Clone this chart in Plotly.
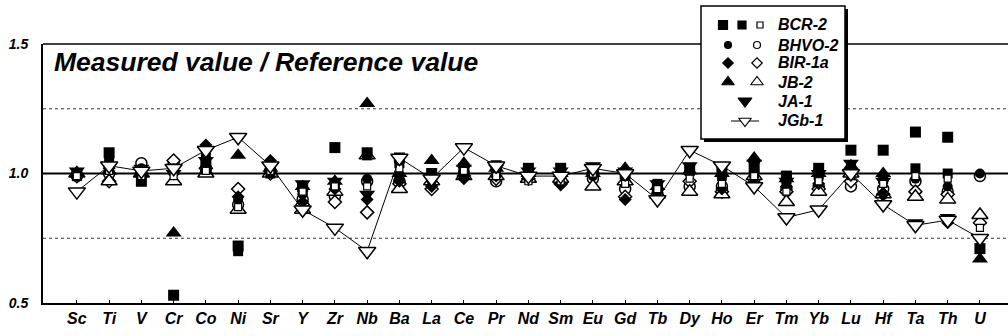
import plotly.graph_objects as go

# ---------------- data ----------------
elements = ["Sc", "Ti", "V", "Cr", "Co", "Ni", "Sr", "Y", "Zr", "Nb", "Ba", "La", "Ce", "Pr",
            "Nd", "Sm", "Eu", "Gd", "Tb", "Dy", "Ho", "Er", "Tm", "Yb", "Lu", "Hf", "Ta", "Th", "U"]

bcr2_a = [1.00, 1.08, 0.97, 0.53, 1.03, 0.72, 1.02, 0.95, 1.10, 1.08, 1.06, 1.00, 1.02, 1.03,
          1.02, 1.02, 1.02, 1.00, 0.95, 1.02, 1.02, 1.02, 0.99, 1.02, 1.09, 1.09, 1.16, 1.14, 0.71]
bcr2_b = [0.99, 1.05, 0.99, None, 1.06, 0.70, 1.00, 0.93, 0.96, 1.07, 1.04, 0.99, 1.00, 1.01,
          1.01, 1.00, 1.01, 0.99, 0.96, 1.01, 1.00, 1.00, 0.98, 1.00, 1.03, 0.98, 1.02, 1.00, None]
bcr2_open = [0.99, 1.01, 0.99, 0.99, 1.01, 0.87, 1.01, 0.93, 0.95, 0.95, 1.02, 0.98, 1.01, 0.99,
             0.97, 0.97, 1.00, 0.96, 0.94, 0.98, 0.96, 0.99, 0.93, 0.97, 0.99, 0.96, 0.99, 0.98, 0.79]
bhvo2_fill = [1.00, 1.03, 1.02, 1.02, 1.04, 0.90, 1.03, 0.92, 0.96, 0.98, 0.99, 0.97, 1.03, 1.00,
              1.00, 0.99, 0.99, 0.99, 0.93, 1.00, 0.98, 1.00, 0.96, 0.98, 1.02, 0.97, 0.98, 0.95, 1.00]
bhvo2_open = [0.99, 1.00, 1.04, 1.04, 1.02, 0.88, 1.01, 0.90, 0.91, 0.97, 0.97, 0.96, 1.00, 0.97,
              0.98, 0.98, 0.98, 0.94, 0.92, 0.95, 0.95, 0.97, 0.94, 0.95, 0.95, 0.94, 0.97, 0.93, 0.99]
bir1a_fill = [1.00, 1.02, 1.01, 1.00, 1.11, 0.91, 1.05, 0.89, 0.94, 0.90, 0.97, 0.95, 0.98, 0.99,
              0.98, 0.96, 1.01, 0.90, 0.91, 1.00, 0.94, 0.96, 0.95, 0.96, 1.01, 0.92, None, 0.81, None]
bir1a_open = [0.99, 0.97, 1.00, 1.05, 1.02, 0.94, 1.00, 0.88, 0.89, 0.85, 0.96, 0.94, 0.99, 0.98,
              0.98, 0.96, 1.00, 0.91, 0.91, 0.97, 0.93, 0.96, 0.93, 0.94, 0.97, 0.92, 0.93, 0.92, 0.81]
jb2_fill = [1.00, 1.01, 1.00, 0.77, 1.01, 1.07, 1.02, 0.95, 0.97, 1.27, 1.00, 1.05, 1.04, 1.02,
            1.00, 1.00, 1.00, 1.02, 0.95, 1.01, 1.00, 1.06, 0.98, 1.00, 1.03, 1.00, None, None, 0.67]
jb2_open = [1.00, 0.97, 1.00, 0.97, 1.00, 0.86, 1.00, 0.86, 0.93, 1.07, 0.94, 0.97, 0.99, 0.99,
            0.98, 0.98, 0.95, 0.97, 0.92, 0.93, 0.92, 0.99, 0.89, 0.93, 1.00, 0.92, 0.91, 0.90, 0.84]
ja1 = [1.01, 1.03, 1.02, 1.00, 1.05, None, 1.03, 0.96, 0.97, 0.92, 1.06, 0.98, 1.02, 1.02,
       1.01, 1.01, 1.03, 1.01, 0.96, 1.03, 1.03, 1.04, 0.97, 1.00, 1.04, 0.97, 0.81, 0.83, None]
jgb1 = [0.93, 1.03, 1.01, 1.02, 1.09, 1.14, 1.03, 0.86, 0.79, 0.70, 1.06, 0.98, 1.10, 1.03,
        0.99, 0.99, 1.02, 1.00, 0.90, 1.09, 1.03, 0.95, 0.83, 0.86, 1.00, 0.88, 0.80, 0.82, 0.75]

legend_names = ["BCR-2", "BHVO-2", "BIR-1a", "JB-2", "JA-1", "JGb-1"]
title_text = "Measured value / Reference value"
y_ticks = [0.5, 1.0, 1.5]
y_ticktext = ["0.5", "1.0", "1.5"]

# ---------------- layout geometry (pixels) ----------------
W, H = 1008, 336
ML, MR, MT, MB = 43, 0, 44, 33
PW, PH = W - ML - MR, H - MT - MB
FONT = "Liberation Sans, Arial, sans-serif"


def px_x(p):
    return (p - ML) / PW


def px_y(p):
    return (H - MB - p) / PH


fig = go.Figure()

BLACK = "#000000"


def filled(y, symbol, size, name):
    fig.add_trace(go.Scatter(
        x=elements, y=y, mode="markers", name=name, showlegend=False, cliponaxis=False,
        marker=dict(symbol=symbol, size=size, color=BLACK, line=dict(width=0))))


def opened(y, symbol, size, name, lw=1.5):
    fig.add_trace(go.Scatter(
        x=elements, y=y, mode="markers", name=name, showlegend=False, cliponaxis=False,
        marker=dict(symbol=symbol, size=size, color="white", line=dict(width=lw, color=BLACK))))


opened(bhvo2_open, "circle", 11, "BHVO-2 open")
opened(bir1a_open, "diamond", 10, "BIR-1a open")
opened(jb2_open, "triangle-up", 14, "JB-2 open")
filled(bcr2_a, "square", 11, "BCR-2")
filled(bcr2_b, "square", 10, "BCR-2 (2)")
filled(bhvo2_fill, "circle", 10, "BHVO-2")
filled(bir1a_fill, "diamond", 10, "BIR-1a")
filled(jb2_fill, "triangle-up", 14, "JB-2")
filled(ja1, "triangle-down", 14, "JA-1")
opened(bcr2_open, "square", 7, "BCR-2 open", lw=1.2)
fig.add_trace(go.Scatter(
    x=elements, y=jgb1, mode="lines+markers", name="JGb-1", showlegend=False, cliponaxis=False,
    line=dict(color=BLACK, width=1),
    marker=dict(symbol="triangle-down", size=15, color="white", line=dict(width=1.5, color=BLACK))))

# ---------------- manual legend (overlay pixel axes) ----------------
row_y = [25, 45, 63, 82, 101, 121]
leg = [
    # (x pixel, y pixel, symbol, size, fill)
    (728, row_y[1], "circle", 7, BLACK), (757, row_y[1], "circle", 7, "white"),
    (728, row_y[2], "diamond", 8, BLACK), (757, row_y[2], "diamond", 8, "white"),
    (728, row_y[3], "triangle-up", 11, BLACK), (757, row_y[3], "triangle-up", 11, "white"),
    (745, row_y[4], "triangle-down", 12, BLACK),
]
for (lx, ly, sym, sz, col) in leg:
    fig.add_trace(go.Scatter(
        x=[lx], y=[ly], xaxis="x2", yaxis="y2", mode="markers", showlegend=False,
        cliponaxis=False, hoverinfo="skip",
        marker=dict(symbol=sym, size=sz, color=col, line=dict(width=1.2, color=BLACK))))
fig.add_trace(go.Scatter(
    x=[731, 759], y=[row_y[5], row_y[5]], xaxis="x2", yaxis="y2", mode="lines", showlegend=False,
    cliponaxis=False, hoverinfo="skip", line=dict(color=BLACK, width=1)))
fig.add_trace(go.Scatter(
    x=[745], y=[row_y[5]], xaxis="x2", yaxis="y2", mode="markers", showlegend=False,
    cliponaxis=False, hoverinfo="skip",
    marker=dict(symbol="triangle-down", size=11, color="white", line=dict(width=1.2, color=BLACK))))

shapes = []
# reference lines
for v in (0.75, 1.25):
    shapes.append(dict(type="line", xref="paper", yref="y", x0=0, x1=1, y0=v, y1=v,
                       line=dict(color="#333333", width=1, dash="dot"), layer="below"))
shapes.append(dict(type="line", xref="paper", yref="y", x0=0, x1=1, y0=1.0, y1=1.0,
                   line=dict(color=BLACK, width=2), layer="below"))
# top spine, interrupted by legend box
shapes.append(dict(type="line", xref="paper", yref="paper", x0=0, x1=px_x(701), y0=1, y1=1,
                   line=dict(color=BLACK, width=1.5), layer="below"))
shapes.append(dict(type="line", xref="paper", yref="paper", x0=px_x(845), x1=1, y0=1, y1=1,
                   line=dict(color=BLACK, width=1.5), layer="below"))
# legend box shadow + box
shapes.append(dict(type="rect", xref="paper", yref="paper",
                   x0=px_x(704), x1=px_x(848), y0=px_y(142), y1=px_y(9),
                   fillcolor=BLACK, line=dict(width=0), layer="below"))
shapes.append(dict(type="rect", xref="paper", yref="paper",
                   x0=px_x(701), x1=px_x(845), y0=px_y(139), y1=px_y(6),
                   fillcolor="white", line=dict(width=1.5, color=BLACK), layer="below"))
# BCR-2 legend squares (row above the plotting area)
for (cx, half, fill) in ((723, 4.5, BLACK), (742, 4.0, BLACK), (760, 3.0, "white")):
    shapes.append(dict(type="rect", xref="paper", yref="paper",
                       x0=px_x(cx - half), x1=px_x(cx + half),
                       y0=px_y(row_y[0] + half), y1=px_y(row_y[0] - half),
                       fillcolor=fill, line=dict(width=1.2, color=BLACK), layer="above"))

annotations = [dict(
    text=title_text, xref="paper", yref="paper", x=px_x(52), y=px_y(62),
    xanchor="left", yanchor="middle", showarrow=False,
    font=dict(family=FONT, size=26.5, color=BLACK, weight="bold", style="italic"))]
for name, ry in zip(legend_names, row_y):
    annotations.append(dict(
        text=name, xref="paper", yref="paper", x=px_x(776), y=px_y(ry),
        xanchor="left", yanchor="middle", showarrow=False,
        font=dict(family=FONT, size=16, color=BLACK, weight="bold", style="italic")))

fig.update_layout(
    width=W, height=H,
    margin=dict(l=ML, r=MR, t=MT, b=MB, pad=0),
    paper_bgcolor="white", plot_bgcolor="white",
    showlegend=False,
    shapes=shapes, annotations=annotations,
    xaxis=dict(
        type="category", categoryorder="array", categoryarray=elements,
        range=[-1.05, 28.87], showgrid=False, zeroline=False,
        showline=True, linecolor=BLACK, linewidth=2,
        ticks="inside", ticklen=3, tickcolor=BLACK, tickwidth=1,
        tickfont=dict(family=FONT, size=16, color=BLACK, weight="bold", style="italic"),
    ),
    yaxis=dict(
        range=[0.5, 1.5], tickvals=y_ticks, ticktext=y_ticktext,
        showgrid=False, zeroline=False,
        showline=True, linecolor=BLACK, linewidth=2, ticks="", ticklabelstandoff=10,
        tickfont=dict(family=FONT, size=14, color=BLACK, weight="bold", style="italic"),
    ),
    xaxis2=dict(overlaying="x", range=[ML, W - MR], visible=False, fixedrange=True),
    yaxis2=dict(overlaying="y", range=[H - MB, MT], visible=False, fixedrange=True),
)

fig.write_html("out.html")
